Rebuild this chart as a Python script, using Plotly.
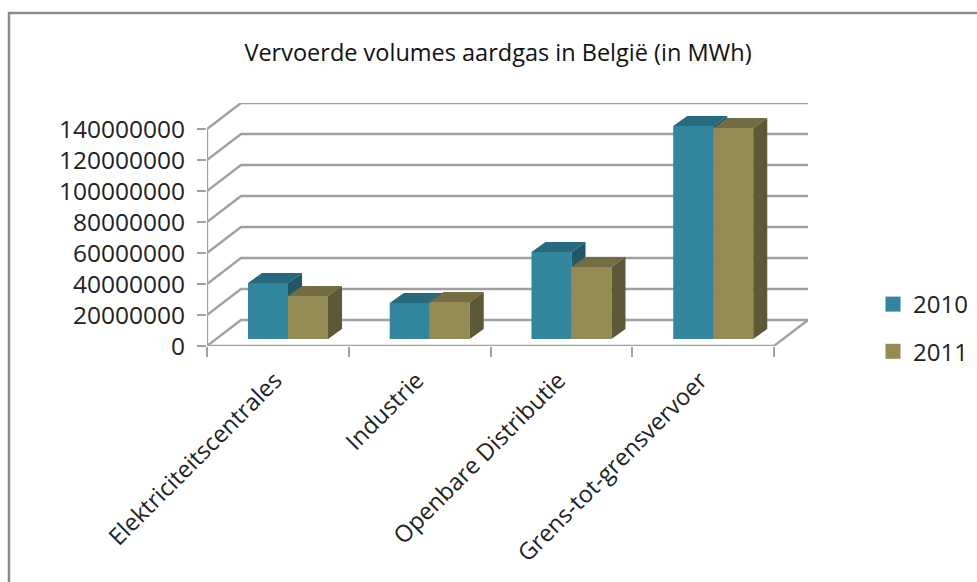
import plotly.graph_objects as go

categories = ["Elektriciteitscentrales", "Industrie", "Openbare Distributie", "Grens-tot-grensvervoer"]
values_2010 = [36100000, 23200000, 56100000, 137400000]
values_2011 = [27700000, 23900000, 46500000, 136100000]
y_ticks = [0, 20000000, 40000000, 60000000, 80000000, 100000000, 120000000, 140000000]
title = "Vervoerde volumes aardgas in België (in MWh)"

# pixel geometry of the plot box
L, R, T, B = 207, 808, 103, 346
X_PX = 141.75            # px per category
Y_PX = 1.55 / 1e6        # px per unit
W, H = 977, 582
X_RANGE = [0, (R - L) / X_PX]
Y_RANGE = [0, (B - T) / Y_PX]

WALL_DX, WALL_DY = 34 / X_PX, 26 / Y_PX
BAR_DX, BAR_DY = 14 / X_PX, 10 / Y_PX
BAR_BASE = 7 / Y_PX
BAR_W = 40 / X_PX
BAR_START = 41 / X_PX

GRID = "#a0a0a0"
FONT = "Open Sans"


def polys(x0s, x1s, tops, bases, dx, dy, kind):
    xs, ys = [], []
    for a, b, t, s in zip(x0s, x1s, tops, bases):
        if kind == "top":
            xs += [a, b, b + dx, a + dx, a, None]
            ys += [t, t, t + dy, t + dy, t, None]
        else:
            xs += [b, b + dx, b + dx, b, b, None]
            ys += [s, s + dy, t + dy, t, s, None]
    return xs, ys


fig = go.Figure()

# wall grid, drawn on the base axes, below the bars
gx, gy = [], []
for v in y_ticks:
    gx += [0, WALL_DX, X_RANGE[1], None]
    gy += [v, v + WALL_DY, v + WALL_DY, None]
n = len(categories)
gx += [n, n + WALL_DX, None, 0, 0, None, 0, n, None]
gy += [0, WALL_DY, None, 0, y_ticks[-1], None, 0, 0, None]
fig.add_trace(go.Scatter(x=gx, y=gy, mode="lines", line=dict(color=GRID, width=2.3),
                         showlegend=False, hoverinfo="skip", cliponaxis=False))

series = [
    ("2010", values_2010, "#31859C", "#276A7D", "#205867", 0, "x2", "y2"),
    ("2011", values_2011, "#948A54", "#746C43", "#5E5836", 1, "x3", "y3"),
]
for name, vals, front, top, side, k, xa, ya in series:
    x0 = [i + BAR_START + k * BAR_W for i in range(n)]
    x1 = [a + BAR_W for a in x0]
    tops = [v + BAR_BASE for v in vals]
    bases = [BAR_BASE] * n
    fig.add_trace(go.Bar(x=[a + BAR_W / 2 for a in x0], y=vals, base=bases, width=BAR_W,
                         marker=dict(color=front, line=dict(width=0)), name=name,
                         showlegend=False, xaxis=xa, yaxis=ya))
    for kind, col in (("top", top), ("side", side)):
        px, py = polys(x0, x1, tops, bases, BAR_DX, BAR_DY, kind)
        fig.add_trace(go.Scatter(x=px, y=py, mode="none", fill="toself", fillcolor=col,
                                 showlegend=False, hoverinfo="skip", xaxis=xa, yaxis=ya))
    fig.add_trace(go.Scatter(x=[None], y=[None], mode="markers", name=name, legendgroup=name,
                             marker=dict(symbol="square", size=15, color=front)))

hidden = dict(visible=False, fixedrange=True)
fig.update_layout(
    width=W, height=H, autosize=False,
    margin=dict(l=L, r=W - R, t=T, b=H - B, autoexpand=False),
    paper_bgcolor="white", plot_bgcolor="white",
    barmode="overlay",
    font=dict(family=FONT, color="#222222"),
    title=dict(text=title, x=498 / W, xanchor="center", y=1 - 53 / H, yanchor="middle",
               font=dict(family=FONT, size=23.5, color="#111111")),
    xaxis=dict(range=X_RANGE, showgrid=False, zeroline=False, showline=False,
               tickmode="array", tickvals=[i + 0.48 for i in range(n)], ticktext=categories,
               tickangle=-45, ticks="", ticklabelstandoff=15,
               tickfont=dict(family=FONT, size=23.5, color="#222222"),
               minor=dict(tickmode="array", tickvals=list(range(n + 1)), ticks="outside",
                          ticklen=10, tickwidth=2.3, tickcolor=GRID, showgrid=False)),
    yaxis=dict(range=Y_RANGE, showgrid=False, zeroline=False, showline=False,
               tickmode="array", tickvals=y_ticks, ticktext=[str(v) for v in y_ticks],
               ticks="outside", ticklen=9, tickwidth=2.3, tickcolor=GRID,
               ticklabelstandoff=7,
               tickfont=dict(family=FONT, size=24.5, color="#222222")),
    xaxis2=dict(range=X_RANGE, overlaying="x", **hidden),
    yaxis2=dict(range=Y_RANGE, overlaying="y", **hidden),
    xaxis3=dict(range=X_RANGE, overlaying="x", **hidden),
    yaxis3=dict(range=Y_RANGE, overlaying="y", **hidden),
    legend=dict(x=(873 - L) / (R - L), xanchor="left", y=(B - 282) / (B - T), yanchor="top",
                yref="paper", font=dict(family=FONT, size=24, color="#222222"),
                tracegroupgap=13, itemwidth=30, bgcolor="rgba(0,0,0,0)"),
    shapes=[dict(type="path", xref="paper", yref="paper", layer="below",
                 path="M {} {} L {} {} L {} {}".format(
                     (9 - L) / (R - L), (B - 582) / (B - T),
                     (9 - L) / (R - L), (B - 13) / (B - T),
                     (977 - L) / (R - L), (B - 13) / (B - T)),
                 line=dict(color="#8c8c8c", width=2.5), fillcolor="rgba(0,0,0,0)")],
)
fig.write_html("out.html", config={"displayModeBar": False},
               post_script="document.body.style.margin='0';document.documentElement.style.overflow='hidden';")
